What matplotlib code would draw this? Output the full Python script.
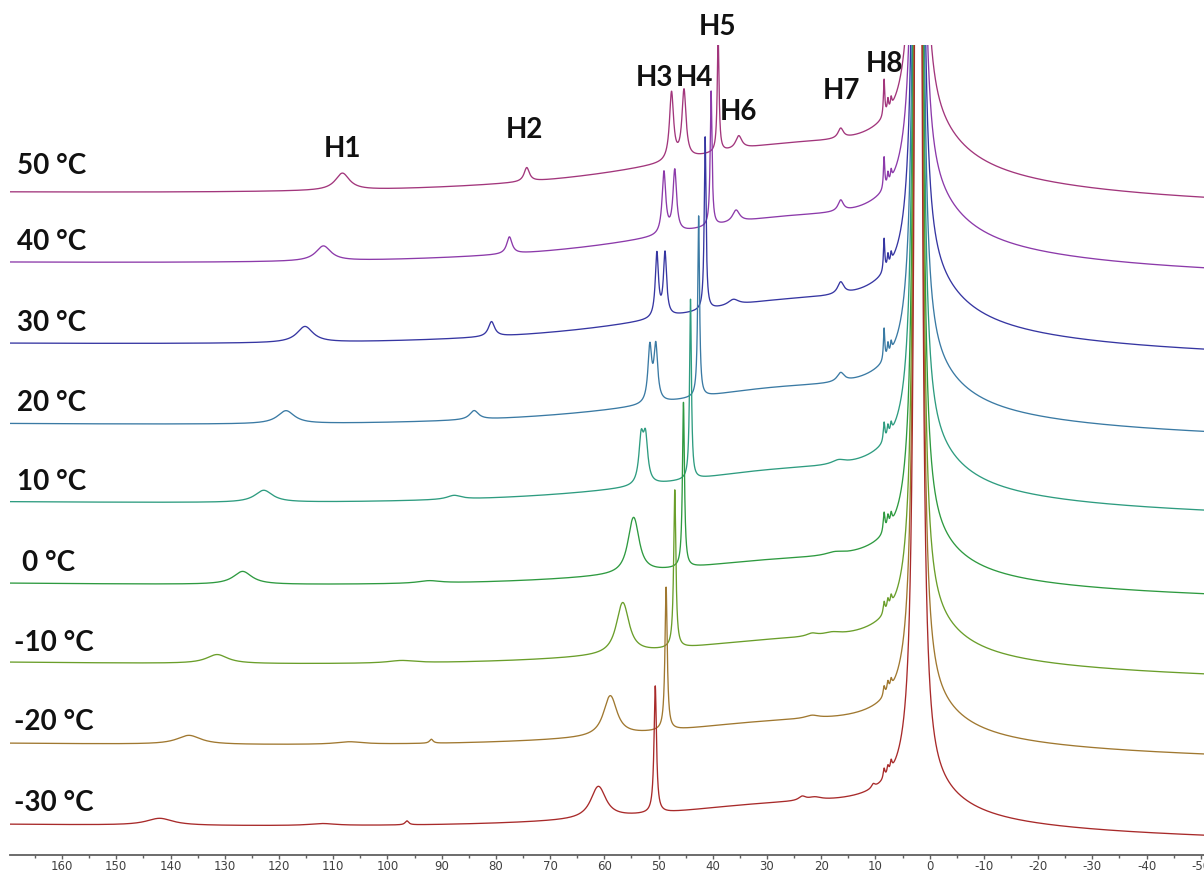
import numpy as np
import matplotlib.pyplot as plt

plt.rcParams['axes.unicode_minus'] = False

# temperatures, top trace first
temps = ['50 °C', '40 °C', '30 °C', '20 °C', '10 °C', '0 °C', '-10 °C', '-20 °C', '-30 °C']
colors = ['#A2367C', '#8C3AAA', '#3636A2', '#3A7AA4', '#2E9C80',
          '#2E9A40', '#6A9E2A', '#A07830', '#A82A2A']

# peak families: position (ppm), height, half width (ppm), one value per temperature
h1_pos = [108.3, 111.8, 115.2, 118.7, 122.8, 126.7, 131.4, 136.6, 142.0]
h1_amp = [17, 15, 16, 13, 12, 13, 9, 9, 7]
h1_hw = [1.6, 1.7, 1.8, 1.9, 2.0, 2.1, 2.4, 2.7, 3.0]

h2_pos = [74.3, 77.5, 80.8, 84.0, 87.7, 92.3, 97.4, 107.0, 112.0]
h2_amp = [14, 17, 15, 9, 4, 2.5, 2.5, 2.5, 2]
h2_hw = [0.6, 0.6, 0.7, 1.0, 1.6, 2.5, 3.0, 3.0, 3.0]

h3_pos = [47.6, 49.0, 50.3, 51.6, 53.2, 54.9, 56.9, 59.2, 61.4]
h3_amp = [68, 62, 64, 55, 44, 30, 27, 21, 16.5]
h4_pos = [45.3, 47.0, 48.8, 50.5, 52.4, 54.3, 56.3, 58.6, 60.8]
h4_amp = [68, 62, 63, 55, 44, 30, 27, 21, 16.5]
h34_hw = [0.45, 0.4, 0.35, 0.42, 0.5, 1.1, 1.3, 1.4, 1.6]

h5_pos = [39.0, 40.3, 41.4, 42.6, 44.1, 45.4, 47.0, 48.6, 50.6]
h5_amp = [115, 135, 173, 181, 180, 165, 158, 143, 127]
h5_hw = [0.2, 0.2, 0.2, 0.2, 0.2, 0.22, 0.24, 0.25, 0.27]

h6_pos = [35.2, 35.7, 36.2, 36.8, 37.5, 38.0, 38.0, 38.0, 38.0]
h6_amp = [13, 12, 6, 0, 0, 0, 0, 0, 0]
h6_hw = [0.7, 0.8, 1.2, 1.5, 1.5, 1.5, 1.5, 1.5, 1.5]

h7_pos = [16.4, 16.4, 16.4, 16.4, 16.8, 17.5, 18.0, 21.7, 21.2]
h7_amp = [10, 11, 12, 9, 4, 3, 3, 3, 3]
h7_hw = [0.6, 0.6, 0.7, 0.8, 1.5, 2.0, 2.0, 1.5, 1.5]

h8_pos = [8.4, 7.7, 7.1]
h8a_amp = [37, 32, 33, 32, 19, 20, 12, 10, 10]
h8b_amp = [12, 11, 12, 12, 11, 12, 10, 10, 8]
h8c_amp = [9, 9, 9, 9, 9, 10, 9, 8, 9]
h8_hw = [0.15, 0.15, 0.15, 0.15, 0.18, 0.2, 0.2, 0.2, 0.2]

# small extra signals: (trace index, ppm, height, half width)
extra_idx = [7, 8, 8, 8, 6]
extra_pos = [91.9, 96.4, 23.5, 10.4, 21.7]
extra_amp = [4, 4, 4, 4, 3]
extra_hw = [0.4, 0.4, 0.8, 0.4, 1.2]

# solvent / diamagnetic region around 2 ppm
cen_pos = 2.1
narrow_amp, narrow_hw = 3000, 0.4
medium_amp = [50, 50, 50, 45, 45, 40, 38, 36, 35]
medium_hw = 8.0
broad_pos, broad_hw = 25.0, 35.0
broad_amp = [55, 52, 50, 44, 40, 32, 32, 31, 30]
tilt = [0.06, 0.06, 0.06, 0.065, 0.065, 0.07, 0.075, 0.07, 0.07]

# stacking levels (vertical layout)
levels = [660, 590, 509, 429, 351, 270, 191, 110, 29]


def lorentz(x, x0, amp, hw):
    return amp * hw ** 2 / ((x - x0) ** 2 + hw ** 2)


ppm = np.arange(170.0, -51.0, -0.01)
x_left = 169.6

fig = plt.figure(figsize=(12.04, 8.74), dpi=100)
ax = fig.add_axes([10 / 1204, 19 / 874, 1194 / 1204, 810 / 874])

for i, name in enumerate(temps):
    y = levels[i] + tilt[i] * (ppm - x_left)
    y += lorentz(ppm, broad_pos, broad_amp[i], broad_hw)
    y += lorentz(ppm, cen_pos, medium_amp[i], medium_hw)
    y += lorentz(ppm, cen_pos, narrow_amp, narrow_hw)
    y += lorentz(ppm, h1_pos[i], h1_amp[i], h1_hw[i])
    y += lorentz(ppm, h2_pos[i], h2_amp[i], h2_hw[i])
    y += lorentz(ppm, h3_pos[i], h3_amp[i], h34_hw[i])
    y += lorentz(ppm, h4_pos[i], h4_amp[i], h34_hw[i])
    y += lorentz(ppm, h5_pos[i], h5_amp[i], h5_hw[i])
    y += lorentz(ppm, h6_pos[i], h6_amp[i], h6_hw[i])
    y += lorentz(ppm, h7_pos[i], h7_amp[i], h7_hw[i])
    y += lorentz(ppm, h8_pos[0], h8a_amp[i], h8_hw[i])
    y += lorentz(ppm, h8_pos[1], h8b_amp[i], h8_hw[i])
    y += lorentz(ppm, h8_pos[2], h8c_amp[i], h8_hw[i])
    for k, idx in enumerate(extra_idx):
        if idx == i:
            y += lorentz(ppm, extra_pos[k], extra_amp[k], extra_hw[k])
    ax.plot(ppm, y, color=colors[i], lw=0.95)

# temperature labels
lab_x = [168.4, 168.4, 168.4, 168.4, 168.4, 167.3, 168.8, 168.8, 168.8]
lab_y = [689, 613, 532, 452, 373, 292, 212, 133, 52]
for i, name in enumerate(temps):
    ax.text(lab_x[i], lab_y[i], name, ha='left', va='center',
            fontsize=20, fontweight='bold', family='Lato', color='#111111')

# peak assignments
h_names = ['H1', 'H2', 'H3', 'H4', 'H5', 'H6', 'H7', 'H8']
h_x = [108.2, 74.8, 50.7, 43.4, 39.2, 35.3, 16.3, 8.4]
h_y = [706, 725, 777, 777, 828, 743, 764, 791]
for name, hx, hy in zip(h_names, h_x, h_y):
    ax.text(hx, hy, name, ha='center', va='center', fontsize=20,
            fontweight='bold', family='Lato', color='#111111')

ax.set_xlim(x_left, -50.6)
ax.set_ylim(0, 810)
ax.set_xticks(np.arange(-50, 161, 10))
ax.set_xticks(np.arange(-45, 166, 10), minor=True)
ax.set_yticks([])
for side in ('left', 'right', 'top'):
    ax.spines[side].set_visible(False)
ax.spines['bottom'].set_color('#606060')
ax.spines['bottom'].set_linewidth(1.3)
ax.tick_params(axis='x', which='major', length=3, width=1, color='#606060',
               labelsize=8.5, labelcolor='#404040', pad=0.5)
ax.tick_params(axis='x', which='minor', length=1.8, width=1, color='#606060')

fig.savefig('out.png', dpi=100)
